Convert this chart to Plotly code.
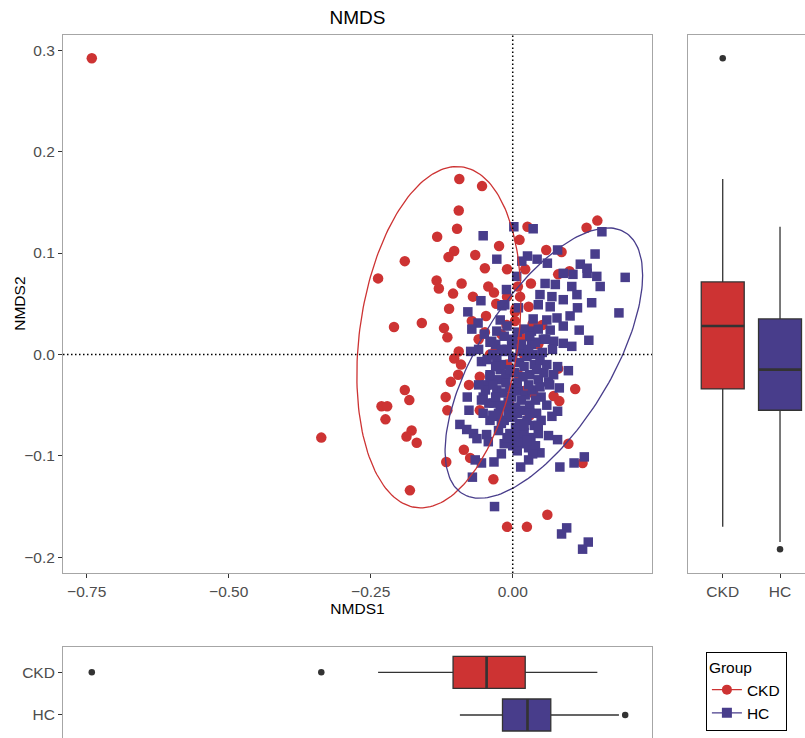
import numpy as np
import plotly.graph_objects as go

groups = ["CKD", "HC"]

ckd_x = [-0.741, -0.337, -0.094, -0.054, -0.095, -0.098, -0.133, -0.024, -0.103, -0.113,
         -0.190, -0.066, -0.049, -0.237, -0.134, -0.130, -0.090, -0.105, -0.043, -0.033,
         -0.070, -0.112, -0.029, -0.047, -0.209, -0.160, -0.121, -0.115, -0.072, -0.049,
         -0.095, 0.026, 0.149, 0.130, 0.012, 0.059, 0.086, -0.010, 0.022, 0.100,
         0.080, 0.032, 0.009, -0.010, 0.013, 0.028, 0.004, 0.052, 0.004, -0.011,
         0.017, -0.103, -0.091, -0.096, -0.109, -0.077, -0.190, -0.182, -0.231, -0.221,
         -0.224, -0.118, -0.115, -0.178, -0.187, -0.169, -0.086, -0.075, -0.117, -0.034,
         -0.181, -0.058, -0.058, -0.010, 0.080, 0.110, 0.072, 0.082, 0.098, 0.123,
         0.061, 0.025, 0.036, 0.019, -0.020, 0.000, -0.010, 0.010, 0.020, -0.030,
         0.005, 0.035, -0.005, 0.015, -0.040, 0.010, 0.045, -0.060, 0.030]
ckd_y = [0.292, -0.082, 0.173, 0.166, 0.142, 0.124, 0.116, 0.107, 0.102, 0.096,
         0.092, 0.098, 0.085, 0.075, 0.073, 0.065, 0.070, 0.060, 0.067, 0.061,
         0.057, 0.045, 0.050, 0.038, 0.027, 0.031, 0.026, 0.017, 0.033, 0.022,
         0.003, 0.126, 0.132, 0.125, 0.113, 0.103, 0.101, 0.084, 0.084, 0.082,
         0.079, 0.070, 0.067, 0.057, 0.057, 0.047, 0.042, 0.029, 0.033, 0.029,
         0.016, -0.004, -0.010, -0.020, -0.027, -0.030, -0.035, -0.045, -0.051, -0.051,
         -0.064, -0.042, -0.055, -0.075, -0.081, -0.087, -0.094, -0.102, -0.106, -0.123,
         -0.134, -0.055, -0.022, -0.170, -0.014, -0.034, -0.041, -0.046, -0.088, -0.107,
         -0.158, -0.170, -0.038, -0.036, 0.020, 0.010, -0.010, -0.020, 0.000, 0.005,
         0.045, 0.030, -0.050, -0.075, 0.000, 0.020, 0.010, 0.015, -0.060]

hc_x = [-0.052, -0.028, -0.056, -0.019, -0.079, -0.061, -0.072, -0.022, -0.028, -0.037,
        -0.074, 0.002, 0.036, 0.157, 0.145, 0.079, 0.026, 0.043, 0.061, 0.119,
        0.131, 0.131, 0.148, 0.198, 0.154, 0.106, 0.089, 0.007, 0.016, 0.057,
        0.075, 0.104, 0.113, 0.089, 0.069, 0.048, -0.011, 0.139, 0.114, 0.066,
        0.045, 0.010, -0.014, 0.187, 0.101, 0.078, 0.060, 0.036, 0.089, 0.066,
        0.117, 0.033, 0.134, 0.054, 0.072, 0.089, 0.104, -0.002, 0.033, 0.036,
        -0.017, 0.013, 0.079, 0.098, 0.063, 0.082, 0.079, 0.069, 0.063, 0.079,
        0.048, 0.028, 0.014, 0.083, 0.108, 0.126, 0.001, 0.013, 0.095, 0.086,
        0.133, 0.123, -0.055, -0.080, -0.077, -0.093, -0.081, -0.069, -0.063, -0.046,
        -0.043, -0.066, -0.055, -0.033, -0.071, -0.032, -0.046, -0.028, -0.052, -0.034,
        -0.052, -0.040, -0.028, -0.022, -0.028, -0.040,
        -0.045, -0.035, -0.020, -0.010, 0.000, 0.012, 0.025, 0.038, 0.048,
        -0.040, -0.025, -0.012, 0.003, 0.018, 0.030, 0.045, 0.055,
        -0.048, -0.018, -0.005, 0.010, 0.022, 0.035, 0.050,
        -0.042, -0.022, -0.008, 0.005, 0.018, 0.030, 0.042,
        -0.035, -0.015, 0.000, 0.012, 0.025, 0.038, 0.050,
        -0.025, -0.005, 0.008, 0.020, 0.032, 0.045,
        -0.015, 0.000, 0.015, 0.028, 0.040,
        -0.030, -0.015, 0.000, 0.015, 0.028, 0.040, 0.052,
        -0.050, -0.010, 0.020, 0.045, 0.060, 0.065, 0.060, 0.058,
        -0.060, -0.055, -0.060, 0.070, 0.072,
        -0.030, -0.005, 0.020, 0.042, -0.035, -0.012, 0.008, 0.028, 0.048,
        -0.030, -0.002, 0.015, 0.040, -0.025, -0.008, 0.008, 0.030,
        -0.020, 0.005, 0.020, 0.045, -0.010, 0.025, 0.008, 0.035, -0.020,
        -0.040, 0.008, 0.030, -0.020]
hc_y = [0.117, 0.094, 0.053, 0.048, 0.042, 0.031, 0.025, 0.034, 0.023, 0.013,
        0.003, 0.126, 0.124, 0.121, 0.099, 0.103, 0.097, 0.094, 0.090, 0.089,
        0.085, 0.080, 0.077, 0.076, 0.067, 0.079, 0.080, 0.077, 0.092, 0.070,
        0.069, 0.067, 0.059, 0.054, 0.057, 0.059, 0.064, 0.051, 0.046, 0.047,
        0.049, 0.046, 0.049, 0.041, 0.038, 0.036, 0.034, 0.035, 0.028, 0.024,
        0.024, 0.023, 0.014, 0.015, 0.013, 0.011, 0.008, 0.010, 0.010, 0.000,
        0.003, 0.003, -0.012, -0.016, -0.027, -0.033, -0.056, -0.061, -0.080, -0.084,
        -0.097, -0.104, -0.111, -0.111, -0.107, -0.101, -0.085, -0.085, -0.171, -0.177,
        -0.185, -0.192, -0.007, -0.042, -0.055, -0.069, -0.074, -0.078, -0.083, -0.079,
        -0.086, -0.104, -0.107, -0.106, -0.121, -0.150, -0.030, -0.035, -0.042, -0.048,
        -0.058, -0.065, -0.061, -0.015, -0.005, -0.022,
        -0.005, 0.000, -0.010, 0.005, -0.003, -0.008, -0.002, -0.010, -0.006,
        -0.020, -0.025, -0.020, -0.018, -0.022, -0.020, -0.025, -0.018,
        -0.035, -0.038, -0.033, -0.036, -0.040, -0.035, -0.042,
        -0.048, -0.050, -0.047, -0.052, -0.055, -0.050, -0.058,
        -0.060, -0.065, -0.062, -0.068, -0.065, -0.070, -0.065,
        -0.075, -0.078, -0.080, -0.077, -0.082, -0.078,
        -0.088, -0.090, -0.088, -0.092, -0.090,
        0.010, 0.018, 0.015, 0.010, 0.005, 0.012, 0.002,
        0.020, 0.028, 0.025, 0.025, -0.010, -0.030, -0.050, 0.015,
        -0.030, -0.045, 0.005, 0.005, -0.020,
        -0.012, -0.015, -0.012, -0.015, -0.030, -0.028, -0.028, -0.030, -0.032,
        -0.042, -0.042, -0.045, -0.045, -0.058, -0.056, -0.058, -0.058,
        -0.068, -0.072, -0.070, -0.070, -0.082, -0.085, -0.095, -0.098, -0.098,
        0.012, 0.022, 0.018, 0.005]

# quartiles (CKD, HC)
nmds1_q1 = [-0.105, -0.018]
nmds1_median = [-0.046, 0.026]
nmds1_q3 = [0.022, 0.067]
nmds2_q1 = [-0.034, -0.055]
nmds2_median = [0.028, -0.015]
nmds2_q3 = [0.0715, 0.035]

# 95% ellipse parameters: centre x, centre y, half-extent x, half-extent y, correlation
ellipse_ckd = [-0.130, 0.017, 0.1444, 0.1683, 0.22]
ellipse_hc = [0.0548, -0.0085, 0.1739, 0.1333, 0.65]

RED = "#CD3333"
PURPLE = "#483D8B"
FRAME = "#A6A6A6"
TICKC = "#333333"
LABC = "#4D4D4D"
FONT = "Liberation Sans, Arial, sans-serif"
FS = 15.5


def whiskers(vals, q1, q3):
    iqr = q3 - q1
    lo, hi = q1 - 1.5 * iqr, q3 + 1.5 * iqr
    inside = [v for v in vals if lo <= v <= hi]
    out = [v for v in vals if v < lo or v > hi]
    return min(inside), max(inside), out


def ellipse(p, n=200):
    cx, cy, sx, sy, r = p
    t = np.linspace(0, 2 * np.pi, n)
    return cx + sx * np.cos(t), cy + sy * (r * np.cos(t) + np.sqrt(1 - r * r) * np.sin(t))


fig = go.Figure()

colors = [RED, PURPLE]
symbols = ["circle", "square"]
xs = [ckd_x, hc_x]
ys = [ckd_y, hc_y]
ells = [ellipse_ckd, ellipse_hc]

# main scatter
for i, g in enumerate(groups):
    fig.add_trace(go.Scatter(x=xs[i], y=ys[i], mode="markers", showlegend=False,
                             marker=dict(color=colors[i], symbol=symbols[i],
                                         size=10.5 if i == 0 else 9.5, line=dict(width=0)),
                             xaxis="x", yaxis="y"))
for i, g in enumerate(groups):
    ex, ey = ellipse(ells[i])
    fig.add_trace(go.Scatter(x=ex, y=ey, mode="lines", showlegend=False,
                             line=dict(color=colors[i], width=1.3), xaxis="x", yaxis="y"))

# right marginal boxplots (NMDS2)
for i, g in enumerate(groups):
    lo, hi, out = whiskers(ys[i], nmds2_q1[i], nmds2_q3[i])
    pos = i + 1
    fig.add_trace(go.Box(x=[pos], q1=[nmds2_q1[i]], median=[nmds2_median[i]], q3=[nmds2_q3[i]],
                         lowerfence=[lo], upperfence=[hi], width=0.75, whiskerwidth=0,
                         fillcolor=colors[i], line=dict(color=TICKC, width=1.3),
                         boxpoints=False, showlegend=False, xaxis="x2", yaxis="y2"))
    fig.add_trace(go.Scatter(x=[pos - 0.375, pos + 0.375], y=[nmds2_median[i]] * 2, mode="lines",
                             line=dict(color=TICKC, width=2.6), showlegend=False,
                             xaxis="x2", yaxis="y2"))
    if out:
        fig.add_trace(go.Scatter(x=[pos] * len(out), y=out, mode="markers", showlegend=False,
                                 marker=dict(color=TICKC, size=6.5), xaxis="x2", yaxis="y2"))

# bottom marginal boxplots (NMDS1)
for i, g in enumerate(groups):
    lo, hi, out = whiskers(xs[i], nmds1_q1[i], nmds1_q3[i])
    pos = i + 1
    fig.add_trace(go.Box(y=[pos], q1=[nmds1_q1[i]], median=[nmds1_median[i]], q3=[nmds1_q3[i]],
                         lowerfence=[lo], upperfence=[hi], width=0.75, whiskerwidth=0,
                         orientation="h",
                         fillcolor=colors[i], line=dict(color=TICKC, width=1.3),
                         boxpoints=False, showlegend=False, xaxis="x3", yaxis="y3"))
    fig.add_trace(go.Scatter(y=[pos - 0.375, pos + 0.375], x=[nmds1_median[i]] * 2, mode="lines",
                             line=dict(color=TICKC, width=2.6), showlegend=False,
                             xaxis="x3", yaxis="y3"))
    if out:
        fig.add_trace(go.Scatter(y=[pos] * len(out), x=out, mode="markers", showlegend=False,
                                 marker=dict(color=TICKC, size=6.5), xaxis="x3", yaxis="y3"))

# legend entries
for i, g in enumerate(groups):
    fig.add_trace(go.Scatter(x=[None], y=[None], mode="lines+markers", name=g,
                             marker=dict(color=colors[i], symbol=symbols[i], size=10),
                             line=dict(color=colors[i], width=1.3), xaxis="x", yaxis="y"))

W, H = 805, 738
xdom = [63 / W, 652 / W]
ydom = [1 - 573 / H, 1 - 34.5 / H]
xrange_main = [-0.7917, 0.2452]
yrange_main = [-0.2155, 0.3155]

axis_common = dict(showgrid=False, zeroline=False, linecolor=FRAME, linewidth=1,
                   ticks="outside", ticklen=4, tickcolor=TICKC, tickwidth=1,
                   tickfont=dict(family=FONT, size=FS, color=LABC))

fig.update_layout(
    width=W, height=H, margin=dict(l=0, r=0, t=0, b=0),
    paper_bgcolor="white", plot_bgcolor="white",
    font=dict(family=FONT, size=FS, color="black"),
    title=dict(text="NMDS", x=357.5 / W, y=1 - 17 / H, xanchor="center", yanchor="middle",
               font=dict(family=FONT, size=19, color="black")),
    xaxis=dict(domain=xdom, range=xrange_main, anchor="y", showline=True, mirror=True,
               tickvals=[-0.75, -0.5, -0.25, 0.0], tickformat=".2f",
               title=dict(text="NMDS1", standoff=2, font=dict(family=FONT, size=FS, color="black")),
               **axis_common),
    yaxis=dict(domain=ydom, range=yrange_main, anchor="x", showline=True, mirror=True,
               tickvals=[-0.2, -0.1, 0.0, 0.1, 0.2, 0.3], tickformat=".1f",
               **axis_common),
    xaxis2=dict(domain=[688 / W, 1.0], range=[0.394, 2.436], anchor="y2", showline=True,
                mirror=True, tickvals=[1, 2], ticktext=groups, **axis_common),
    yaxis2=dict(domain=ydom, range=yrange_main, anchor="x2", showline=True, mirror=False,
                showgrid=False, zeroline=False, linecolor=FRAME, linewidth=1,
                showticklabels=False, ticks=""),
    xaxis3=dict(domain=xdom, range=xrange_main, anchor="y3", side="top", showline=True,
                mirror=False, showgrid=False, zeroline=False, linecolor=FRAME, linewidth=1,
                showticklabels=False, ticks=""),
    yaxis3=dict(domain=[0, 1 - 647 / H], range=[2.539, 0.4075], anchor="x3", showline=True,
                mirror=True, tickvals=[1, 2], ticktext=groups, **axis_common),
    legend=dict(x=705.7 / W, y=1 - 651.7 / H, xanchor="left", yanchor="top",
                bgcolor="white", bordercolor="black", borderwidth=1.2,
                font=dict(family=FONT, size=FS, color="black"),
                title=dict(text="Group", font=dict(family=FONT, size=FS, color="black")),
                itemwidth=30, tracegroupgap=0),
    annotations=[
        dict(text="NMDS2", xref="paper", yref="paper", x=20 / W, y=(ydom[0] + ydom[1]) / 2,
             textangle=-90, showarrow=False, xanchor="center", yanchor="middle",
             font=dict(family=FONT, size=FS, color="black")),
    ],
    shapes=[
        dict(type="line", xref="x", yref="y domain", x0=0, x1=0, y0=0, y1=1, layer="above",
             line=dict(color="black", width=1.5, dash="1.5px,2.5px")),
        dict(type="line", xref="x domain", yref="y", x0=0, x1=1, y0=0, y1=0, layer="above",
             line=dict(color="black", width=1.5, dash="1.5px,2.5px")),
    ],
)

fig.write_html("out.html")
